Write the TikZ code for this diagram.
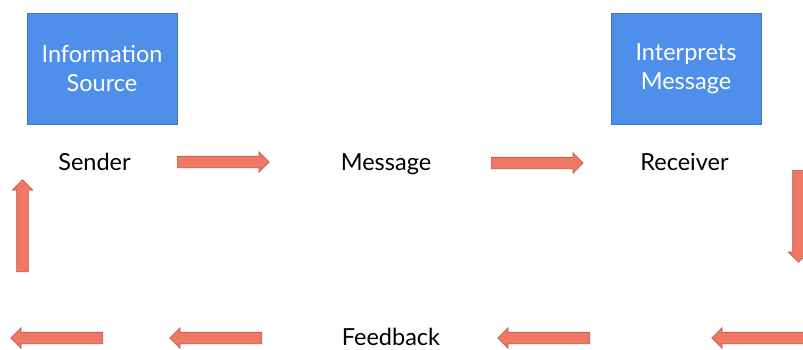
\documentclass[tikz,border=0pt]{standalone}
\usepackage{fontspec}
\setmainfont{Lato}
\usepackage{xcolor}
\usepackage{tikz}
\usetikzlibrary{shapes}
\usetikzlibrary{shapes.arrows}
\usetikzlibrary{positioning}
\definecolor{boxblue}{RGB}{78,143,236}
\definecolor{boxline}{RGB}{62,118,200}
\definecolor{salmon}{RGB}{238,120,100}
\definecolor{salmonline}{RGB}{192,84,72}

\begin{document}
\begin{tikzpicture}[
  x=1pt, y=-1pt,
  font=\fontsize{23.5}{29}\selectfont,
  infobox/.style={rectangle,draw=boxline,fill=boxblue,text=white,
    minimum width=150pt,minimum height=111pt,align=center,line width=0.6pt},
  label/.style={text=black,anchor=base,inner sep=0pt},
  blockarrow/.style={single arrow,draw=salmonline,fill=salmon,line width=0.6pt,
    minimum height=92pt,inner sep=5.5pt,anchor=tail,
    single arrow head extend=4.5pt,single arrow head indent=0pt}]
  \useasboundingbox (0,0) rectangle (803,349);
  % boxes
  \node[infobox] (source) at (102,68.5) {Information\\Source};
  \node[infobox] (interp) at (686,68.5) {Interprets\\Message};
  % labels
  \node[label] (sender) at (94.5,170) {Sender};
  \node[label] (message) at (386,170) {Message};
  \node[label] (receiver) at (684.5,170) {Receiver};
  \node[label] (feedback) at (391,345) {Feedback};
  % arrows (placed by their tails)
  \node[blockarrow] (a1) at (177,162) {};
  \node[blockarrow] (a2) at (491,163) {};
  \node[blockarrow,shape border rotate=270] (a3) at (798.5,170) {};
  \node[blockarrow,shape border rotate=180] (a4) at (804,338) {};
  \node[blockarrow,shape border rotate=180] (a5) at (590,338) {};
  \node[blockarrow,shape border rotate=180] (a6) at (262,338) {};
  \node[blockarrow,shape border rotate=180] (a7) at (103,338) {};
  \node[blockarrow,shape border rotate=90] (a8) at (22.5,272) {};
\end{tikzpicture}
\end{document}
